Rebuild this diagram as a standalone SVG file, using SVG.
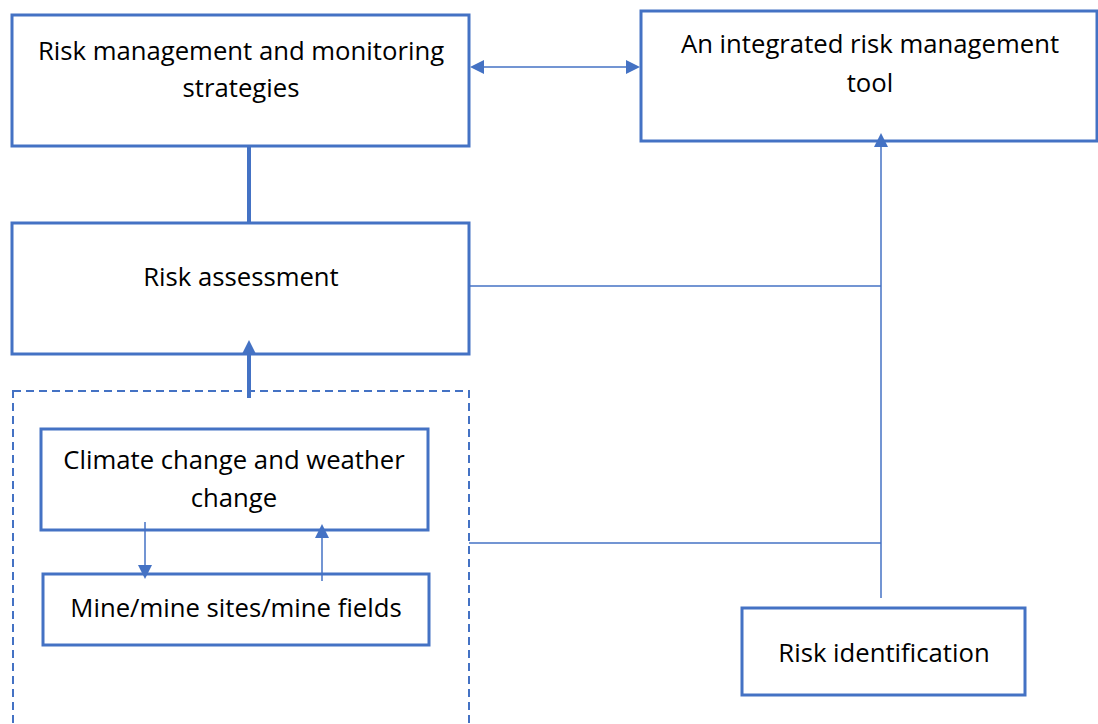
<svg xmlns="http://www.w3.org/2000/svg" width="1098" height="724" viewBox="0 0 1098 724">
<style>
.box{fill:#ffffff;stroke:#4472C4;stroke-width:3}
.lbl{font-family:"Open Sans","Noto Sans","Liberation Sans",sans-serif;font-size:25.7px;fill:#000000;text-anchor:middle}
.thin{stroke:#4472C4;stroke-width:1.5;fill:none}
.thick{stroke:#4472C4;stroke-width:4;fill:none}
.dash{fill:none;stroke:#4472C4;stroke-width:2;stroke-dasharray:8 5}
</style>
<defs>
<marker id="ah" viewBox="0 0 10 10" refX="0" refY="5" markerWidth="15" markerHeight="14" markerUnits="userSpaceOnUse" orient="auto-start-reverse">
<path d="M0,0 L10,5 L0,10 z" fill="#4472C4"/>
</marker>
<marker id="ahb" viewBox="0 0 10 10" refX="0" refY="5" markerWidth="15" markerHeight="16" markerUnits="userSpaceOnUse" orient="auto">
<path d="M0,0 L10,5 L0,10 z" fill="#4472C4"/>
</marker>
</defs>
<rect width="1098" height="724" fill="#ffffff"/>
<g id="group-boundary">
<rect class="dash" x="13" y="391" width="456" height="360"/>
</g>
<g id="node-strategies">
<rect class="box" x="12" y="15" width="457" height="131"/>
<text class="lbl" x="241" y="60">Risk management and monitoring</text>
<text class="lbl" x="241" y="97">strategies</text>
</g>
<g id="node-tool">
<rect class="box" x="641" y="11" width="456" height="130"/>
<text class="lbl" x="870" y="53">An integrated risk management</text>
<text class="lbl" x="870" y="92">tool</text>
</g>
<g id="node-assessment">
<rect class="box" x="12" y="223" width="457" height="131"/>
<text class="lbl" x="241" y="286">Risk assessment</text>
</g>
<g id="node-climate">
<rect class="box" x="41" y="429" width="387" height="101"/>
<text class="lbl" x="234" y="469">Climate change and weather</text>
<text class="lbl" x="234" y="507">change</text>
</g>
<g id="node-mine">
<rect class="box" x="43" y="574" width="386" height="71"/>
<text class="lbl" x="236" y="617">Mine/mine sites/mine fields</text>
</g>
<g id="node-identification">
<rect class="box" x="742" y="608" width="283" height="87"/>
<text class="lbl" x="884" y="662">Risk identification</text>
</g>
<g id="connectors">
<line class="thin" x1="484" y1="67" x2="626" y2="67" marker-start="url(#ah)" marker-end="url(#ah)"/>
<line class="thick" x1="249" y1="146" x2="249" y2="223"/>
<line class="thick" x1="249" y1="398" x2="249" y2="355" marker-end="url(#ahb)"/>
<line class="thin" x1="469" y1="286" x2="881" y2="286"/>
<line class="thin" x1="469" y1="543" x2="881" y2="543"/>
<line class="thin" x1="881" y1="598" x2="881" y2="147" marker-end="url(#ah)"/>
<line class="thin" x1="145" y1="522" x2="145" y2="565" marker-end="url(#ah)"/>
<line class="thin" x1="322" y1="581" x2="322" y2="538" marker-end="url(#ah)"/>
</g>
</svg>
